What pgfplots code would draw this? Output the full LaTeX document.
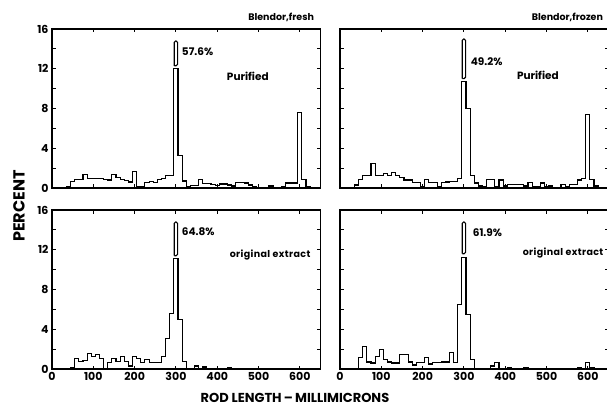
\documentclass[border=0pt]{standalone}
\usepackage{fontspec}
\setmainfont{Poppins}
\newfontfamily\spaced[LetterSpace=4]{Poppins}
\usepackage{pgfplots}
\pgfplotsset{compat=1.18}

% histogram of rod lengths, 10 mu bins; left edge of each bin, percent
\pgfplotsset{
  panel/.style={
    width=268.5pt,height=159pt,scale only axis,anchor=south west,
    xmin=0,xmax=650,ymin=0,ymax=16,
    xtick={0,100,...,600},ytick={0,4,...,16},minor ytick={2,6,10,14},
    tick align=inside,major tick length=3.5pt,minor tick length=3.5pt,
    axis line style={line width=1.3pt},
    every tick/.style={black,line width=1pt},
    tick label style={font=\bfseries\fontsize{11}{11}\selectfont},
    /pgf/number format/assume math mode=true,
    clip=false},
  hist/.style={const plot,black,line width=1.1pt,no marks},
  brk/.style={black,line width=1.1pt,no marks,rounded corners=1.5pt}
}
\tikzset{note/.style={font=\bfseries\fontsize{10.5}{10.5}\selectfont},
  orig/.style={font=\spaced\bfseries\fontsize{9.5}{9.5}\selectfont}}

\begin{document}
\begin{tikzpicture}
\useasboundingbox (0,0) rectangle (607pt,407pt);

% top left: Blendor, fresh, purified
\begin{axis}[panel,at={(52pt,219pt)},xticklabels={}]
\addplot[hist] coordinates {
 (25,0) (35,0.15) (45,0.65) (55,0.9) (65,0.9) (75,1.4) (85,1.0) (95,1.0)
 (105,0.95) (115,0.95) (125,0.9) (135,0.8) (145,1.4) (155,1.1) (165,0.9)
 (175,0.75) (185,0.6) (195,1.7) (205,0.15) (215,0.15) (225,0.55) (235,0.65)
 (245,0.55) (255,0.9) (265,1.0) (275,1.3) (285,1.3) (295,12) (305,3.3)
 (315,0.7) (325,0.1) (335,0.25) (345,0.25) (355,0.9) (365,0.45) (375,0.45)
 (385,0.35) (395,0.25) (405,0.4) (415,0.4) (425,0.3) (435,0.2) (445,0.55)
 (455,0.55) (465,0.5) (475,0.3) (485,0.1) (495,0.05) (505,0.05) (515,0.05)
 (525,0.2) (535,0.05) (545,0.05) (555,0.1) (565,0.5) (575,0.5) (585,0.5)
 (595,7.6) (605,0.85) (615,0.1) (625,0)};
\addplot[brk] coordinates {(296,12.3) (296,14.8) (304,14.8) (304,12.3) (296,12.3)};
\node[note,anchor=west] at (axis cs:306,13.7) {57.6\%};
\node[note] at (axis cs:474,11.2) {Purified};
\node[note,font=\bfseries\fontsize{9.5}{9.5}\selectfont,anchor=base east] at (rel axis cs:1,1) [xshift=-3pt,yshift=8pt] {Blendor,fresh};
\end{axis}

% top right: Blendor, frozen, purified
\begin{axis}[panel,at={(340pt,219pt)},xticklabels={},yticklabels={}]
\addplot[hist] coordinates {
 (25,0) (35,0.3) (45,0.85) (55,1.3) (65,1.3) (75,2.5) (85,1.3) (95,1.3)
 (105,1.5) (115,1.3) (125,1.6) (135,1.3) (145,1.05) (155,0.8) (165,0.8)
 (175,0.55) (185,0.55) (195,0.15) (205,0.9) (215,0.55) (225,0.55) (235,0.15)
 (245,0.55) (255,0.6) (265,0.65) (275,0.65) (285,1.0) (295,10.7) (305,8.0)
 (315,1.3) (325,0.5) (335,0.2) (345,0.15) (355,0.85) (365,0.85) (375,0.15)
 (385,0.8) (395,0.2) (405,0.35) (415,0.35) (425,0.35) (435,0.35) (445,0.2)
 (455,0.55) (465,0.15) (475,0.15) (485,0.5) (495,0.1) (505,0.2) (515,0.05)
 (525,0.05) (535,0.35) (545,0.1) (555,0.35) (565,0.35) (575,0.8) (585,1.0)
 (595,7.4) (605,0.9) (615,0.2) (625,0.05) (635,0)};
\addplot[brk] coordinates {(296,11.0) (296,15.0) (304,15.0) (304,11.0) (296,11.0)};
\node[note,anchor=west] at (axis cs:308,12.7) {49.2\%};
\node[note] at (axis cs:479,11.3) {Purified};
\node[note,font=\bfseries\fontsize{9.5}{9.5}\selectfont,anchor=base east] at (rel axis cs:1,1) [xshift=-2pt,yshift=8pt] {Blendor,frozen};
\end{axis}

% bottom left: fresh, original extract
\begin{axis}[panel,at={(52pt,38pt)}]
\addplot[hist] coordinates {
 (35,0) (45,0.15) (55,1.05) (65,0.8) (75,0.9) (85,1.6) (95,1.3) (105,1.5)
 (115,1.05) (125,0) (135,0.65) (145,1.1) (155,0.75) (165,1.3) (175,0.75)
 (185,0.3) (195,1.3) (205,1.05) (215,0.65) (225,1.0) (235,0.65) (245,0.65)
 (255,0.65) (265,1.3) (275,3.1) (285,5.6) (295,11.1) (305,5.0) (315,0.8)
 (325,0) (345,0.3) (355,0) (365,0.2) (375,0) (425,0.15) (435,0)};
\addplot[brk] coordinates {(296,11.4) (296,14.8) (304,14.8) (304,11.4) (296,11.4)};
\node[note,anchor=west] at (axis cs:306,13.8) {64.8\%};
\node[orig] at (axis cs:528,11.5) {original extract};
\end{axis}

% bottom right: frozen, original extract
\begin{axis}[panel,at={(340pt,38pt)},yticklabels={}]
\addplot[hist] coordinates {
 (35,0) (45,1.15) (55,2.25) (65,0.7) (75,0.6) (85,1.3) (95,2.0) (105,1.0)
 (115,0.7) (125,0.6) (135,0.6) (145,1.5) (155,1.5) (165,0.7) (175,0.4)
 (185,0.65) (195,0.65) (205,1.15) (215,0.5) (225,0.65) (235,0.65) (245,0.7)
 (255,0.7) (265,1.65) (275,0.65) (285,6.45) (295,11.2) (305,5.45) (315,1.0)
 (325,0) (365,0.3) (375,0.65) (385,0) (405,0.15) (415,0) (445,0.15) (455,0)
 (575,0.15) (585,0.05) (595,0.65) (605,0.15) (615,0)};
\addplot[brk] coordinates {(296,11.6) (296,14.8) (304,14.8) (304,11.6) (296,11.6)};
\node[note,anchor=west] at (axis cs:313,13.7) {61.9\%};
\node[orig] at (axis cs:540,11.7) {original extract};
\end{axis}

\node[font=\bfseries\fontsize{13}{13}\selectfont] at (295pt,9pt) {ROD LENGTH\,--\,MILLIMICRONS};
\node[font=\bfseries\fontsize{16}{16}\selectfont,rotate=90] at (19pt,201pt) {PERCENT};
\end{tikzpicture}
\end{document}
